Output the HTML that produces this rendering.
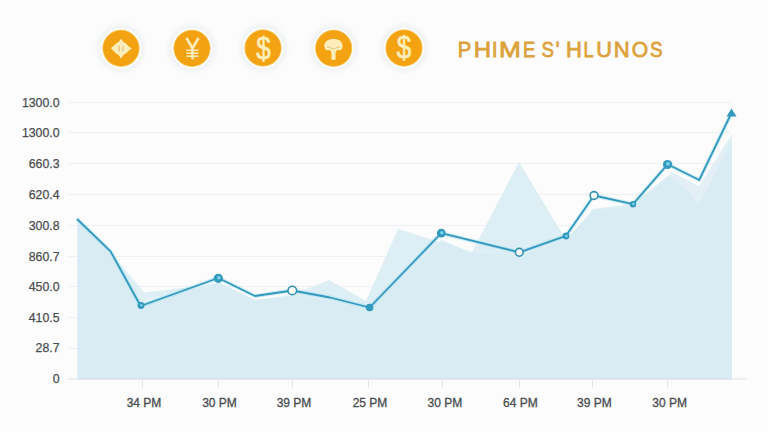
<!DOCTYPE html>
<html>
<head>
<meta charset="utf-8">
<style>
html,body{margin:0;padding:0;}
body{width:768px;height:432px;overflow:hidden;background:#fcfcfc;position:relative;font-family:"Liberation Sans",sans-serif;}
svg{position:absolute;left:0;top:0;}
.yl{font-size:12.3px;fill:#4a4d50;stroke:#4a4d50;stroke-width:0.25px;text-anchor:end;}
.xl{font-size:12px;fill:#4a4d50;stroke:#4a4d50;stroke-width:0.3px;text-anchor:middle;}
</style>
</head>
<body>
<svg width="768" height="432" viewBox="0 0 768 432">
  <defs>
    <filter id="sh" x="-50%" y="-50%" width="200%" height="200%">
      <feGaussianBlur stdDeviation="2.4"/>
    </filter>
  </defs>
  <!-- grid lines -->
  <g stroke="#eef0f1" stroke-width="1">
    <line x1="68" y1="102.5" x2="731" y2="102.5"/>
    <line x1="68" y1="132.5" x2="731" y2="132.5"/>
    <line x1="68" y1="163.5" x2="731" y2="163.5"/>
    <line x1="68" y1="194.5" x2="731" y2="194.5"/>
    <line x1="68" y1="225.5" x2="731" y2="225.5"/>
    <line x1="68" y1="256.5" x2="731" y2="256.5"/>
    <line x1="68" y1="286.5" x2="731" y2="286.5"/>
    <line x1="68" y1="317.5" x2="731" y2="317.5"/>
    <line x1="68" y1="348.5" x2="731" y2="348.5"/>
  </g>
  <!-- ghost area -->
  <polygon fill="#ddeef4" points="77.5,219 110,252 144,292.5 218,284 255,300 292,295 329,280 366,301 398,229 472,252 519,162 566,240 593,209 632,204 671,174 699,202 732,135 732,378.6 77.5,378.6"/>
  <!-- main area -->
  <polygon fill="#daecf3" points="77.5,221 110.6,253 140.6,308 218.3,282 255,300 292.3,296 330,301 369.6,310 441.3,240 472,253 519.3,257 566,240 594,210 633,207 667.6,176 699.2,200 732,135 732,378.6 77.5,378.6"/>
  <polygon fill="#e2f0f6" points="667.6,170 699.2,186 732,134 732,140 699.2,204 671,174"/>
  <!-- axis -->
  <line x1="68" y1="379" x2="747" y2="379" stroke="#dde3e7" stroke-width="1"/>
  <line x1="77.5" y1="378.8" x2="732" y2="378.8" stroke="#cfdde5" stroke-width="1"/>
  <g stroke="#e4e7e9" stroke-width="1">
    <line x1="142.5" y1="379" x2="142.5" y2="388"/>
    <line x1="218.5" y1="379" x2="218.5" y2="388"/>
    <line x1="292.5" y1="379" x2="292.5" y2="388"/>
    <line x1="368.5" y1="379" x2="368.5" y2="388"/>
    <line x1="442.5" y1="379" x2="442.5" y2="388"/>
    <line x1="519.5" y1="379" x2="519.5" y2="388"/>
    <line x1="592.5" y1="379" x2="592.5" y2="388"/>
    <line x1="667.5" y1="379" x2="667.5" y2="388"/>
  </g>
  <line x1="144" y1="301.5" x2="214" y2="282.5" stroke="#eef8fb" stroke-width="1.3"/>
  <!-- line -->
  <polyline fill="none" stroke="#9fe0f2" stroke-opacity="0.5" stroke-width="4" stroke-linejoin="round" points="77,219 110.6,251.4 140.6,306 218.3,278 255,296 292.3,290.5 330,297.5 369.6,307.5 441.3,233.2 519.3,252.3 566,235.8 594,195.5 633,204.2 667.6,164.3 699.2,180 731,114"/>
  <polyline fill="none" stroke="#3398bc" stroke-width="1.8" stroke-linejoin="round" points="77,219 110.6,251.4 140.6,306 218.3,278 255,296 292.3,290.5 330,297.5 369.6,307.5 441.3,233.2 519.3,252.3 566,235.8 594,195.5 633,204.2 667.6,164.3 699.2,180 731,114"/>
  <!-- markers -->
  <g fill="#fcfcfc" stroke="#3191b2" stroke-width="1.6">
    <circle cx="292.3" cy="290.5" r="4.3"/>
    <circle cx="519.3" cy="252.3" r="3.9"/>
    <circle cx="594" cy="195.5" r="3.9"/>
  </g>
  <g fill="#3399bd">
    <circle cx="218.3" cy="278.3" r="4.6"/>
    <circle cx="441.3" cy="233.2" r="4.4"/>
    <circle cx="667.6" cy="164.5" r="4.6"/>
    <circle cx="141" cy="305.5" r="3.4"/>
    <circle cx="369.6" cy="307.5" r="3.8"/>
    <circle cx="566" cy="236" r="3.4"/>
    <circle cx="633" cy="204.2" r="3.2"/>
    <polygon points="731.5,108.5 736.5,116.5 726.5,116.5"/>
  </g>
  <g fill="#7fd3ec">
    <circle cx="218.8" cy="277.8" r="1.8"/>
    <circle cx="441.8" cy="232.8" r="1.7"/>
    <circle cx="668" cy="163.8" r="1.9"/>
    
    <circle cx="566.5" cy="236" r="1.3"/>
    <circle cx="141.3" cy="305.2" r="1.2"/>
    <circle cx="633.3" cy="204" r="1.2"/>
  </g>
  <!-- y labels -->
  <g class="yl">
    <text x="59.5" y="106.5">1300.0</text>
    <text x="59.5" y="136.5">1300.0</text>
    <text x="59.5" y="167.5">660.3</text>
    <text x="59.5" y="198.5">620.4</text>
    <text x="59.5" y="229.5">300.8</text>
    <text x="59.5" y="260.5">860.7</text>
    <text x="59.5" y="290.5">450.0</text>
    <text x="59.5" y="321.5">410.5</text>
    <text x="59.5" y="351.5">28.7</text>
    <text x="59.5" y="382.5">0</text>
  </g>
  <!-- x labels -->
  <g class="xl">
    <text x="144" y="407">34 PM</text>
    <text x="219.5" y="407">30 PM</text>
    <text x="294" y="407">39 PM</text>
    <text x="370" y="407">25 PM</text>
    <text x="444.8" y="407">30 PM</text>
    <text x="520.4" y="407">64 PM</text>
    <text x="594.3" y="407">39 PM</text>
    <text x="669.7" y="407">30 PM</text>
  </g>
  <!-- icons -->
  <g>
    <g transform="translate(121,48.3)">
      <circle r="23.8" fill="#eff2f4" filter="url(#sh)"/>
      <circle r="20.3" fill="#fdfdfd"/>
      <circle r="18.2" fill="#f3a212" stroke="#f8c65a" stroke-width="0.8"/>
    </g>
    <g transform="translate(192,48.3)">
      <circle r="23.8" fill="#eff2f4" filter="url(#sh)"/>
      <circle r="20.3" fill="#fdfdfd"/>
      <circle r="18.2" fill="#f3a212" stroke="#f8c65a" stroke-width="0.8"/>
    </g>
    <g transform="translate(263,48)">
      <circle r="23.8" fill="#eff2f4" filter="url(#sh)"/>
      <circle r="20.3" fill="#fdfdfd"/>
      <circle r="18.2" fill="#f3a212" stroke="#f8c65a" stroke-width="0.8"/>
    </g>
    <g transform="translate(333.7,48.3)">
      <circle r="23.8" fill="#eff2f4" filter="url(#sh)"/>
      <circle r="20.3" fill="#fdfdfd"/>
      <circle r="18.2" fill="#f3a212" stroke="#f8c65a" stroke-width="0.8"/>
    </g>
    <g transform="translate(404,48)">
      <circle r="23.8" fill="#eff2f4" filter="url(#sh)"/>
      <circle r="20.3" fill="#fdfdfd"/>
      <circle r="18.2" fill="#f3a212" stroke="#f8c65a" stroke-width="0.8"/>
    </g>
  </g>
  <!-- glyphs -->
  <g fill="#fdedbb" stroke="#fdedbb" stroke-width="0.7" font-family="Liberation Sans" text-anchor="middle">
    <text x="0" y="58.8" font-size="31" transform="translate(263.6,0) scale(0.84,1)">$</text>
    <text x="0" y="58.5" font-size="31" transform="translate(404.1,0) scale(0.84,1)">$</text>
  </g>
  <g stroke="#fdedbb" stroke-width="2.2" fill="none" stroke-linecap="butt">
    <path d="M186.5,38 L192.5,48.5 L198.5,38" stroke-width="2.6"/><path d="M192.5,48.5 V59.5" stroke-width="2.6"/><path d="M186.5,50.3 H198.5 M186.5,53.3 H198.5 M186.5,56.3 H198.5" stroke-width="1.6"/>
  </g>
  <path fill="#fdedbb" d="M121,38.8 L123.2,41.8 L126.8,44.2 L128.8,46.4 L131.9,48.4 L128.8,50.4 L126.8,52.8 L123.2,55.3 L121,58.6 L118.8,55.3 L115.2,52.8 L113.2,50.4 L110.8,48.2 L113.2,46.2 L115.2,44.2 L118.8,41.8 Z"/>
  <path fill="#c9a25a" opacity="0.6" d="M118.3,45.5 h1.4 v6 h-1.4 z M122.3,46 h1.2 v5 h-1.2z"/>
  <path fill="#fdedbb" d="M324.3,46 C324.3,41.5 328,39 333.5,39 C339,39 342.6,41.5 342.6,46 C342.6,49 340.5,50.8 338.8,50.2 C337.2,49.8 336,51 335.6,53 L335.6,59.8 L331.4,59.8 L331.4,53 C331,51 329.8,49.8 328.2,50.2 C326.5,50.8 324.3,49 324.3,46 Z"/>
  <path fill="none" stroke="#b99a50" stroke-width="0.8" opacity="0.7" d="M327,47.5 C329,46 330.5,48.5 333.5,49 C336.5,48.5 338,46 340,47.5"/>
  <g font-size="22.3" fill="#dca23a" stroke="#dca23a" stroke-width="0.8">
<text x="457.86" y="57.1" textLength="13.49" lengthAdjust="spacingAndGlyphs">P</text>
<text x="473.65" y="57.1" textLength="17.33" lengthAdjust="spacingAndGlyphs">H</text>
<text x="492.03" y="57.1" textLength="5.51" lengthAdjust="spacingAndGlyphs">I</text>
<text x="498.96" y="57.1" textLength="21.86" lengthAdjust="spacingAndGlyphs">M</text>
<text x="523.11" y="57.1" textLength="12.32" lengthAdjust="spacingAndGlyphs">E</text>
<text x="541.40" y="57.1" textLength="12.41" lengthAdjust="spacingAndGlyphs">S</text>
<text x="555.87" y="57.1" textLength="3.75" lengthAdjust="spacingAndGlyphs">&#39;</text>
<text x="565.91" y="57.1" textLength="15.91" lengthAdjust="spacingAndGlyphs">H</text>
<text x="583.44" y="57.1" textLength="10.08" lengthAdjust="spacingAndGlyphs">L</text>
<text x="596.13" y="57.1" textLength="15.67" lengthAdjust="spacingAndGlyphs">U</text>
<text x="613.71" y="57.1" textLength="15.91" lengthAdjust="spacingAndGlyphs">N</text>
<text x="631.78" y="57.1" textLength="16.39" lengthAdjust="spacingAndGlyphs">O</text>
<text x="650.09" y="57.1" textLength="12.53" lengthAdjust="spacingAndGlyphs">S</text>
  </g>
</svg>
</body>
</html>
